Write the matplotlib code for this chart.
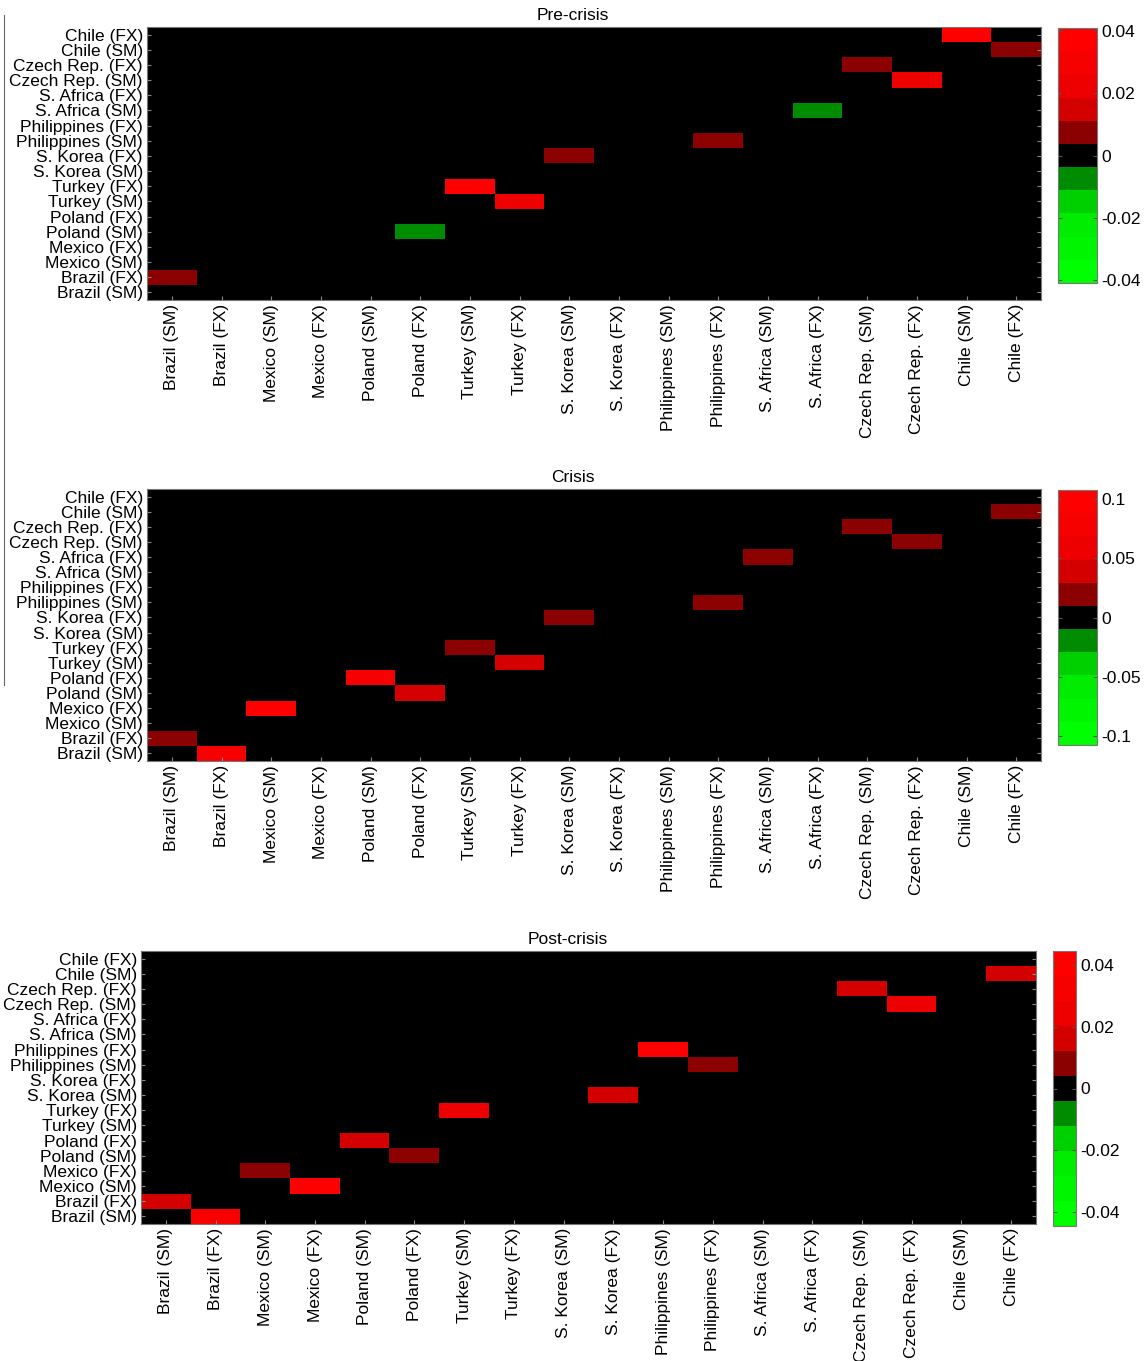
import numpy as np
import matplotlib
matplotlib.use("Agg")
from matplotlib import pyplot as plt
from matplotlib.colors import ListedColormap
from matplotlib.lines import Line2D

plt.rcParams['font.family'] = ['Liberation Sans', 'DejaVu Sans']

# row labels (top to bottom) and column labels (left to right)
row_labels = ["Chile (FX)", "Chile (SM)", "Czech Rep. (FX)", "Czech Rep. (SM)",
              "S. Africa (FX)", "S. Africa (SM)", "Philippines (FX)", "Philippines (SM)",
              "S. Korea (FX)", "S. Korea (SM)", "Turkey (FX)", "Turkey (SM)",
              "Poland (FX)", "Poland (SM)", "Mexico (FX)", "Mexico (SM)",
              "Brazil (FX)", "Brazil (SM)"]
col_labels = ["Brazil (SM)", "Brazil (FX)", "Mexico (SM)", "Mexico (FX)",
              "Poland (SM)", "Poland (FX)", "Turkey (SM)", "Turkey (FX)",
              "S. Korea (SM)", "S. Korea (FX)", "Philippines (SM)", "Philippines (FX)",
              "S. Africa (SM)", "S. Africa (FX)", "Czech Rep. (SM)", "Czech Rep. (FX)",
              "Chile (SM)", "Chile (FX)"]

# non-zero cells: (row label, column label) and value
pre_cells = [("Chile (FX)", "Chile (SM)"), ("Chile (SM)", "Chile (FX)"),
             ("Czech Rep. (FX)", "Czech Rep. (SM)"), ("Czech Rep. (SM)", "Czech Rep. (FX)"),
             ("S. Africa (SM)", "S. Africa (FX)"), ("Philippines (SM)", "Philippines (FX)"),
             ("S. Korea (FX)", "S. Korea (SM)"), ("Turkey (FX)", "Turkey (SM)"),
             ("Turkey (SM)", "Turkey (FX)"), ("Poland (SM)", "Poland (FX)"),
             ("Brazil (FX)", "Brazil (SM)")]
pre_vals = [0.041, 0.008, 0.008, 0.023, -0.009, 0.008, 0.008, 0.037, 0.024, -0.008, 0.008]

crisis_cells = [("Chile (SM)", "Chile (FX)"), ("Czech Rep. (FX)", "Czech Rep. (SM)"),
                ("Czech Rep. (SM)", "Czech Rep. (FX)"), ("S. Africa (FX)", "S. Africa (SM)"),
                ("Philippines (SM)", "Philippines (FX)"), ("S. Korea (FX)", "S. Korea (SM)"),
                ("Turkey (FX)", "Turkey (SM)"), ("Turkey (SM)", "Turkey (FX)"),
                ("Poland (FX)", "Poland (SM)"), ("Poland (SM)", "Poland (FX)"),
                ("Mexico (FX)", "Mexico (SM)"), ("Brazil (FX)", "Brazil (SM)"),
                ("Brazil (SM)", "Brazil (FX)")]
crisis_vals = [0.02, 0.02, 0.02, 0.02, 0.02, 0.02, 0.02, 0.042, 0.078, 0.045, 0.108, 0.02, 0.08]

post_cells = [("Chile (SM)", "Chile (FX)"), ("Czech Rep. (FX)", "Czech Rep. (SM)"),
              ("Czech Rep. (SM)", "Czech Rep. (FX)"), ("Philippines (FX)", "Philippines (SM)"),
              ("Philippines (SM)", "Philippines (FX)"), ("S. Korea (SM)", "S. Korea (FX)"),
              ("Turkey (FX)", "Turkey (SM)"), ("Poland (FX)", "Poland (SM)"),
              ("Poland (SM)", "Poland (FX)"), ("Mexico (FX)", "Mexico (SM)"),
              ("Mexico (SM)", "Mexico (FX)"), ("Brazil (FX)", "Brazil (SM)"),
              ("Brazil (SM)", "Brazil (FX)")]
post_vals = [0.016, 0.017, 0.024, 0.0445, 0.008, 0.016, 0.024, 0.016, 0.008, 0.008, 0.04, 0.016, 0.032]

titles = ["Pre-crisis", "Crisis", "Post-crisis"]
limits = [0.041, 0.108, 0.0445]
cbar_ticks = [[-0.04, -0.02, 0, 0.02, 0.04],
              [-0.1, -0.05, 0, 0.05, 0.1],
              [-0.04, -0.02, 0, 0.02, 0.04]]

cmap = ListedColormap(['#00ff00', '#00f500', '#00ec00', '#00d000', '#008c00', '#000000',
                       '#8b0000', '#d40000', '#ee0000', '#f60000', '#ff0000'])

W, H = 1147, 1361
fig = plt.figure(figsize=(W / 100, H / 100), dpi=100)


def fr(x0, y0, x1, y1):
    # pixel box -> figure fraction rect
    return [x0 / W, 1 - y1 / H, (x1 - x0) / W, (y1 - y0) / H]


ax_boxes = [(147, 27, 1041, 300), (147, 489, 1041, 761), (141, 951, 1036, 1224)]
cb_boxes = [(1058, 28, 1097, 283), (1058, 490, 1097, 745), (1053, 951, 1076, 1226)]
title_pos = [(573, 16), (573, 478), (568, 940)]

all_cells = [pre_cells, crisis_cells, post_cells]
all_vals = [pre_vals, crisis_vals, post_vals]

for i in range(3):
    mat = np.zeros((len(row_labels), len(col_labels)))
    for (r, c), v in zip(all_cells[i], all_vals[i]):
        mat[row_labels.index(r), col_labels.index(c)] = v

    ax = fig.add_axes(fr(*ax_boxes[i]))
    im = ax.imshow(mat, cmap=cmap, vmin=-limits[i], vmax=limits[i],
                   aspect='auto', interpolation='nearest')
    ax.set_yticks(range(len(row_labels)))
    ax.set_yticklabels(row_labels, fontsize=12.5, linespacing=1)
    ax.set_xticks(range(len(col_labels)))
    ax.set_xticklabels(col_labels, rotation=90, fontsize=12.5)
    ax.tick_params(direction='in', length=3, color='#888888', pad=3,
                   right=True, top=False)
    for s in ax.spines.values():
        s.set_color('#777777')
        s.set_linewidth(0.8)
    fig.text(title_pos[i][0] / W, 1 - title_pos[i][1] / H, titles[i],
             ha='center', va='center', fontsize=12.5)

    cax = fig.add_axes(fr(*cb_boxes[i]))
    cb = fig.colorbar(im, cax=cax, ticks=cbar_ticks[i])
    cb.ax.set_yticklabels([f"{t:g}" for t in cbar_ticks[i]], fontsize=12.5)
    cb.ax.tick_params(direction='in', length=3, color='#555555', left=True, right=True, pad=3)
    cb.outline.set_edgecolor('#777777')
    cb.outline.set_linewidth(0.8)

# thin border line on the left edge of the original page
fig.add_artist(Line2D([3.5 / W, 3.5 / W], [1 - 15 / H, 1 - 685 / H],
                      color='#666666', lw=0.8))

fig.savefig("out.png", dpi=100)
